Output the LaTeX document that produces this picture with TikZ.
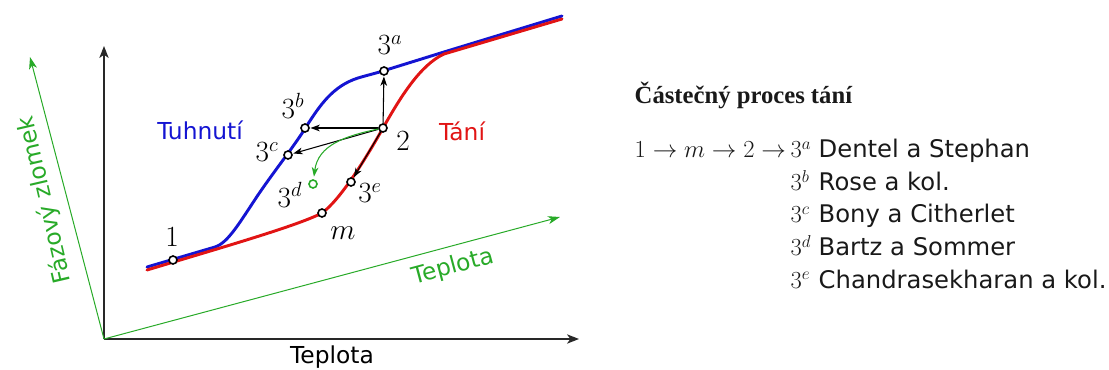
\RequirePackage{fix-cm}
\documentclass[tikz,border=0pt]{standalone}
\usepackage{fontspec}
\newfontfamily\dv{DejaVu Sans}
\newfontfamily\hd{Liberation Serif}
\usetikzlibrary{arrows.meta}
\definecolor{gcol}{RGB}{40,170,40}
\definecolor{bcol}{RGB}{20,20,210}
\definecolor{rcol}{RGB}{225,20,20}
\definecolor{axcol}{RGB}{40,40,40}
\tikzset{
  ax/.style={line width=0.9pt, draw=axcol, -{Stealth[length=9pt,width=7pt,inset=2.5pt]}},
  gax/.style={line width=0.75pt, draw=gcol, -{Stealth[length=9pt,width=6pt,inset=2.5pt]}},
  arr/.style={line width=0.8pt, draw=black, -{Stealth[length=7pt,width=5pt,inset=2pt]}, shorten >=0.5pt},
  garr/.style={line width=0.8pt, draw=gcol, -{Stealth[length=7pt,width=5pt,inset=2pt]}, shorten >=2pt},
  curve/.style={line width=2.2pt, line join=round, line cap=round},
  pt/.style={circle, draw=black, fill=white, line width=1.2pt, inner sep=0pt, minimum size=6pt},
  lab/.style={font=\fontsize{22}{26}\selectfont},
  sl/.style={font=\dv\fontsize{17.5}{20}\selectfont},
  rt/.style={font=\dv\fontsize{18.2}{21}\selectfont, anchor=base west, text=black!90},
  rm/.style={font=\fontsize{18.4}{21}\selectfont, anchor=base west, text=black!90},
}
\begin{document}
\begin{tikzpicture}[x=0.75pt, y=-0.75pt]
\useasboundingbox (0,0) rectangle (1109,370);
% axes
\coordinate (O) at (104,339);
\coordinate (yt) at (104,46);
\coordinate (xt) at (579,339);
\coordinate (gyt) at (30,57);
\coordinate (gxt) at (560,217);
\draw[ax] (O) -- (yt);
\draw[ax] (O) -- (xt);
\draw[gax] (O) -- (gyt);
\draw[gax] (O) -- (gxt);
\node[sl] (xlab) at (332,357) {Teplota};
\node[sl, text=gcol, rotate=103] (ylab) at (45,200) {Fázový zlomek};
\node[sl, text=gcol, rotate=15] (gxlab) at (453,267) {Teplota};
% curves
\draw[curve, draw=bcol] (147,267) -- (215,247) .. controls (228,243) and (240,222) .. (258,195)
  .. controls (275,170) and (295,145) .. (306,127) .. controls (320,105) and (333,86) .. (358,78)
  .. controls (368,75) and (377,73) .. (386,70) -- (444,52) -- (562,16);
\draw[curve, draw=rcol] (147,270) -- (217,249) .. controls (260,236) and (305,222) .. (322,213)
  .. controls (340,200) and (365,160) .. (383,128) .. controls (400,98) and (420,65) .. (444,54) -- (562,19);
\node[sl, text=bcol] (tuh) at (200,130) {Tuhnutí};
\node[sl, text=rcol] (tan) at (462,131) {Tání};
% points
\node[pt] (p1) at (173,260) {};
\node[pt] (pm) at (322,213) {};
\node[pt] (p2) at (383,128) {};
\node[pt] (pa) at (384,71) {};
\node[pt] (pb) at (305,128) {};
\node[pt] (pc) at (288,155) {};
\node[pt, draw=gcol] (pd) at (313,184) {};
\node[pt] (pe) at (351,182) {};
% arrows
\draw[arr] (p2) -- (pa);
\draw[arr] (p2) -- (pb);
\draw[arr] (p2) -- (pc);
\draw[arr] (p2) -- (pe);
\draw[garr] (p2) .. controls (345,136) and (318,145) .. (pd);
% labels
\node[lab] (la) at (390,45) {$3^a$};
\node[lab] (lb) at (293,106) {$3^b$};
\node[lab] (lc) at (267,152) {$3^c$};
\node[lab] (ld) at (290,195) {$3^d$};
\node[lab] (le) at (370,193) {$3^e$};
\node[lab] (lm) at (343,233) {$m$};
\node[lab] (l1) at (172,237) {$1$};
\node[lab] (l2) at (403,141) {$2$};
% right text
\node[anchor=base west, font=\hd\bfseries\fontsize{18.5}{21}\selectfont, text=black!90] (head) at (630,104) {Částečný proces tání};
\node[rm] (seq) at (630,158) {$1\to m\to 2\to$};
\node[rm] (s1) at (786,158) {$3^a$};
\node[rm] (s2) at (786,191) {$3^b$};
\node[rm] (s3) at (786,223) {$3^c$};
\node[rm] (s4) at (786,256) {$3^d$};
\node[rm] (s5) at (786,288) {$3^e$};
\node[rt] (n1) at (814,158) {Dentel a Stephan};
\node[rt] (n2) at (814,191) {Rose a kol.};
\node[rt] (n3) at (814,223) {Bony a Citherlet};
\node[rt] (n4) at (814,256) {Bartz a Sommer};
\node[rt] (n5) at (814,288) {Chandrasekharan a kol.};
\end{tikzpicture}
\end{document}
